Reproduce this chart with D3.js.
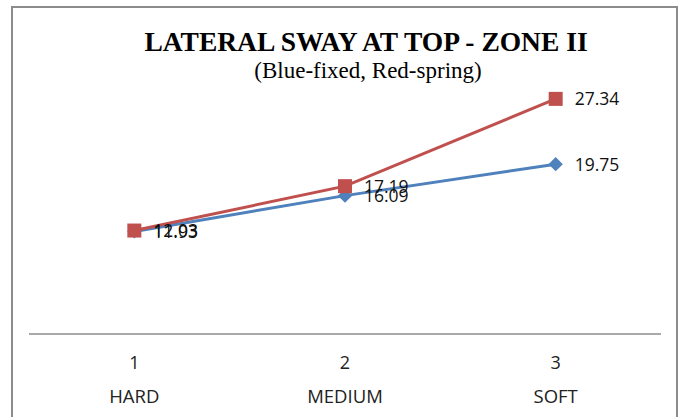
<!DOCTYPE html>
<html>
<head>
<meta charset="utf-8">
<title>Lateral sway at top - zone II</title>
<script src="https://cdnjs.cloudflare.com/ajax/libs/d3/7.8.5/d3.min.js"></script>
<style>
  body { margin: 0; background: #fff; }
</style>
</head>
<body>
<script>
  // datos
  var categorias = ["HARD", "MEDIUM", "SOFT"];
  var numeros = ["1", "2", "3"];
  var fijo = [11.93, 16.09, 19.75];     // azul
  var resorte = [12.03, 17.19, 27.34];  // rojo

  var width = 681, height = 417;

  var svg = d3.select("body").append("svg")
      .attr("width", width)
      .attr("height", height);

  // marco del grafico
  svg.append("rect")
      .attr("x", 12).attr("y", 7)
      .attr("width", 665).attr("height", 420)
      .style("fill", "none")
      .style("stroke", "#8c8c8c")
      .style("stroke-width", 2);

  var x = d3.scaleBand()
      .domain(categorias)
      .range([29, 661]);

  var y = d3.scaleLinear()
      .domain([0, 30])
      .range([334, 76]);

  // eje horizontal
  svg.append("line")
      .attr("x1", 29).attr("x2", 661)
      .attr("y1", y(0)).attr("y2", y(0))
      .style("stroke", "#8c8c8c")
      .style("stroke-width", 1.5);

  var cx = function(d, i) { return x(categorias[i]) + x.bandwidth() / 2; };

  svg.selectAll("text.num")
      .data(numeros)
      .enter().append("text")
      .attr("class", "num")
      .attr("x", cx)
      .attr("y", 369)
      .attr("text-anchor", "middle")
      .style("font-family", "'Open Sans', sans-serif")
      .style("font-size", "18px")
      .style("fill", "#222")
      .text(function(d) { return d; });

  svg.selectAll("text.cat")
      .data(categorias)
      .enter().append("text")
      .attr("class", "cat")
      .attr("x", cx)
      .attr("y", 403)
      .attr("text-anchor", "middle")
      .style("font-family", "'Open Sans', sans-serif")
      .style("font-size", "18.5px")
      .style("fill", "#222")
      .text(function(d) { return d; });

  var linea = d3.line()
      .x(function(d, i) { return cx(d, i); })
      .y(function(d) { return y(d); });

  // serie azul (fija)
  svg.append("path")
      .datum(fijo)
      .attr("d", linea)
      .style("fill", "none")
      .style("stroke", "#4F81BD")
      .style("stroke-width", 3);

  svg.selectAll("path.rombo")
      .data(fijo)
      .enter().append("path")
      .attr("class", "rombo")
      .attr("d", d3.symbol().type(d3.symbolDiamond2).size(130))
      .attr("transform", function(d, i) { return "translate(" + cx(d, i) + "," + y(d) + ")"; })
      .style("fill", "#4F81BD");

  // serie roja (resorte)
  svg.append("path")
      .datum(resorte)
      .attr("d", linea)
      .style("fill", "none")
      .style("stroke", "#C0504D")
      .style("stroke-width", 3);

  svg.selectAll("rect.cuadro")
      .data(resorte)
      .enter().append("rect")
      .attr("class", "cuadro")
      .attr("x", function(d, i) { return cx(d, i) - 7; })
      .attr("y", function(d) { return y(d) - 7; })
      .attr("width", 14).attr("height", 14)
      .style("fill", "#C0504D");

  // rotulos de datos
  var rotular = function(serie) {
    svg.selectAll(null)
        .data(serie)
        .enter().append("text")
        .attr("x", function(d, i) { return cx(d, i) + 19; })
        .attr("y", function(d) { return y(d) + 6.5; })
        .style("font-family", "'Open Sans', sans-serif")
        .style("font-size", "17.5px")
        .style("fill", "#111")
        .text(function(d) { return d.toFixed(2); });
  };
  rotular(fijo);
  rotular(resorte);

  // titulo
  svg.append("text")
      .attr("x", 366).attr("y", 51)
      .attr("text-anchor", "middle")
      .style("font-family", "'Liberation Serif', serif")
      .style("font-weight", "bold")
      .style("font-size", "27.5px")
      .text("LATERAL SWAY AT TOP - ZONE II");

  svg.append("text")
      .attr("x", 368).attr("y", 78)
      .attr("text-anchor", "middle")
      .style("font-family", "'Liberation Serif', serif")
      .style("font-size", "23px")
      .text("(Blue-fixed, Red-spring)");
</script>
</body>
</html>
